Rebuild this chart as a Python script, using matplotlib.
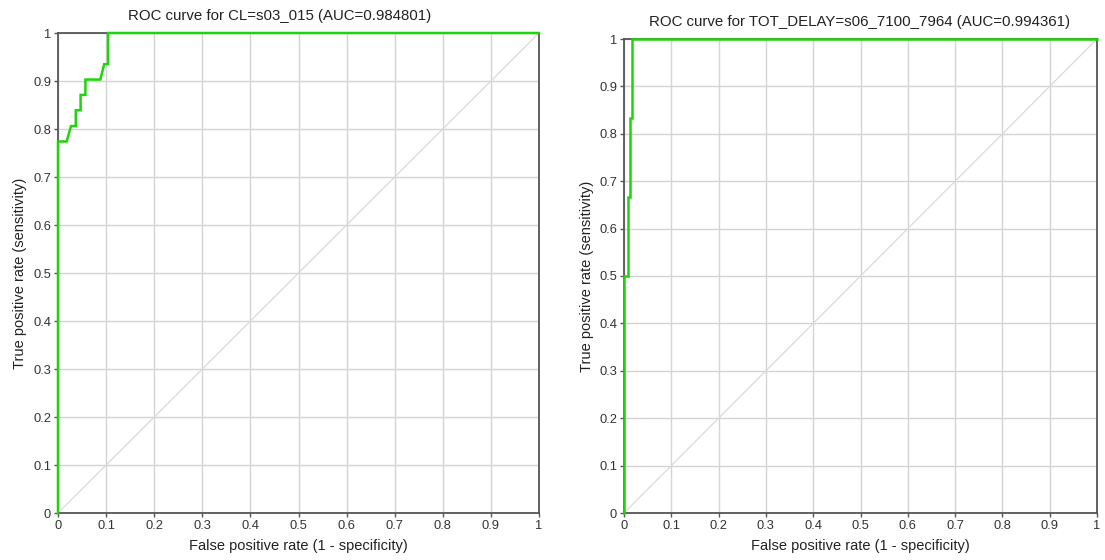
import matplotlib
matplotlib.use("Agg")
import matplotlib.pyplot as plt
import numpy as np

plt.rcParams['font.family'] = ['Liberation Sans', 'DejaVu Sans']

# ROC curve for CL=s03_015
cl_fpr = [0.0, 0.0, 0.018, 0.027, 0.037, 0.037, 0.047, 0.047, 0.057, 0.057, 0.088, 0.096, 0.104, 0.104, 1.0]
cl_tpr = [0.0, 0.774, 0.774, 0.806, 0.806, 0.839, 0.839, 0.871, 0.871, 0.903, 0.903, 0.935, 0.935, 1.0, 1.0]
cl_title = "ROC curve for CL=s03_015 (AUC=0.984801)"

# ROC curve for TOT_DELAY=s06_7100_7964
td_fpr = [0.0, 0.0, 0.009, 0.009, 0.013, 0.013, 0.016, 0.016, 1.0]
td_tpr = [0.0, 0.5, 0.5, 0.667, 0.667, 0.833, 0.833, 1.0, 1.0]
td_title = "ROC curve for TOT_DELAY=s06_7100_7964 (AUC=0.994361)"

ticks = np.round(np.arange(0, 1.01, 0.1), 1)
tick_labels = ["0", "0.1", "0.2", "0.3", "0.4", "0.5", "0.6", "0.7", "0.8", "0.9", "1"]
xlabel = "False positive rate (1 - specificity)"
ylabel = "True positive rate (sensitivity)"

W, H = 1105, 560
fig = plt.figure(figsize=(W / 100, H / 100), dpi=100)


def px_axes(x0, y0, x1, y1):
    return fig.add_axes([x0 / W, 1 - y1 / H, (x1 - x0) / W, (y1 - y0) / H])


def draw(ax, fpr, tpr):
    ax.set_xlim(0, 1)
    ax.set_ylim(0, 1)
    ax.set_xticks(ticks)
    ax.set_yticks(ticks)
    ax.set_xticklabels(tick_labels)
    ax.set_yticklabels(tick_labels)
    ax.grid(True, color="#d4d4d4", linewidth=1.0)
    ax.set_axisbelow(True)
    ax.plot([0, 1], [0, 1], color="#dadada", linewidth=0.9, zorder=2)
    ax.plot(fpr, tpr, color="#1ed40a", linewidth=1.8, zorder=4, clip_on=False,
            solid_joinstyle="miter")
    for side in ["left", "bottom", "top", "right"]:
        ax.spines[side].set_color("#555555")
        ax.spines[side].set_linewidth(1.3)
    ax.tick_params(axis="both", length=3, width=1, color="#555555",
                   labelsize=9.3, labelcolor="#333333", pad=2)
    ax.set_xlabel(xlabel, fontsize=10.5, color="#222222", labelpad=5)
    ax.set_ylabel(ylabel, fontsize=10.5, color="#222222", labelpad=4)


ax1 = px_axes(58, 33, 539, 513)
draw(ax1, cl_fpr, cl_tpr)
ax2 = px_axes(624, 39, 1097, 513)
draw(ax2, td_fpr, td_tpr)

fig.text(280 / W, 1 - 16 / H, cl_title, ha="center", va="center", fontsize=10.8, color="#222222")
fig.text(860 / W, 1 - 22 / H, td_title, ha="center", va="center", fontsize=10.8, color="#222222")

fig.savefig("out.png", dpi=100, facecolor="white")
